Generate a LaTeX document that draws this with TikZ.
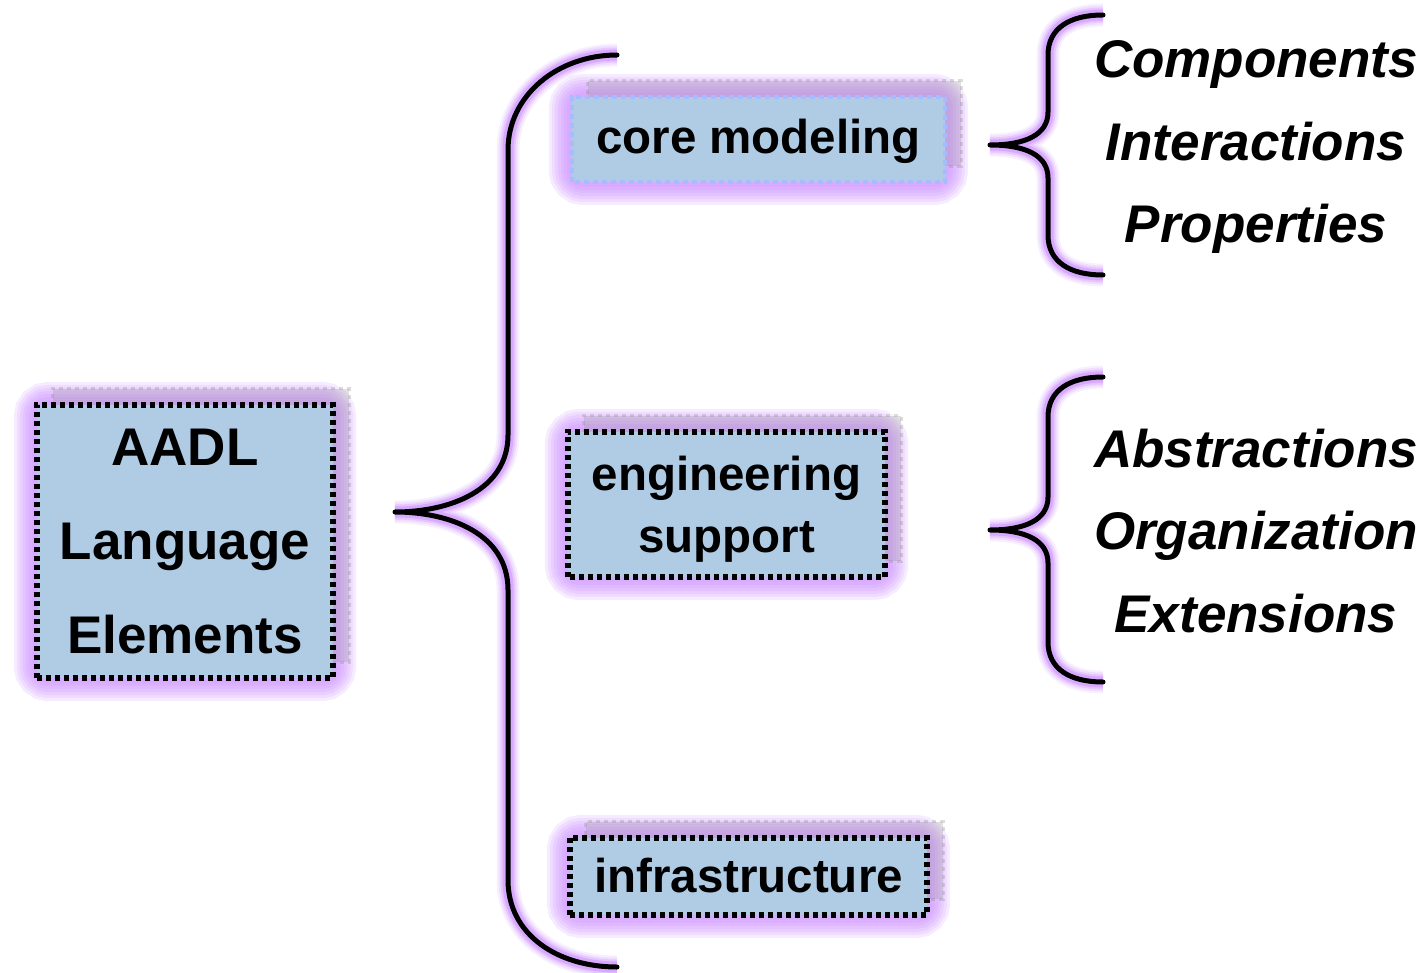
\documentclass[tikz,border=0pt]{standalone}
\usepackage{fontspec}
\setmainfont{Liberation Sans}
\usetikzlibrary{backgrounds}
\definecolor{boxfill}{RGB}{176,203,228}
\definecolor{glowc}{RGB}{200,135,255}
\definecolor{shadowc}{RGB}{140,140,140}
\definecolor{lightdot}{RGB}{165,188,255}
\tikzset{
  box/.style={rectangle, fill=boxfill, draw=none, inner sep=0pt, align=center,
    font=\bfseries\fontsize{47.5}{62}\selectfont},
  dotborder/.style={draw=black, line width=6pt, dash pattern=on 5pt off 4pt},
  lbl/.style={anchor=base, inner sep=0pt, font=\bfseries\itshape\fontsize{53}{60}\selectfont},
  brace/.style={draw=black, line width=5pt, line cap=round, line join=round,
    preaction={draw=glowc, line width=23pt, opacity=0.12},
    preaction={draw=glowc, line width=19pt, opacity=0.18},
    preaction={draw=glowc, line width=15pt, opacity=0.28},
    preaction={draw=glowc, line width=11pt, opacity=0.45}},
}
\newcommand\glowbox[1]{%
  \foreach \w in {46,40,34,28,22,16,10}{%
    \draw[glowc, line width=\w pt, opacity=0.16, rounded corners=12pt]
      (#1.south west) rectangle (#1.north east);}
  \fill[shadowc, opacity=0.25]
    ([shift={(16,-16)}]#1.south west) rectangle ([shift={(16,-16)}]#1.north east);
  \draw[shadowc, opacity=0.3, line width=3pt, dash pattern=on 4pt off 4pt]
    ([shift={(16,-16)}]#1.south west) rectangle ([shift={(16,-16)}]#1.north east);
}
\begin{document}
\begin{tikzpicture}[x=1pt, y=-1pt]
\useasboundingbox (0,0) rectangle (1426,973);

% main boxes
\node[box, minimum width=296pt, minimum height=273pt,
      font=\bfseries\fontsize{53}{94}\selectfont] (aadl) at (185,541.5) {AADL\\Language\\Elements};
\node[box, minimum width=373pt, minimum height=85pt,
      text height=38pt, text depth=9pt] (core) at (758.5,139.5) {core modeling};
\node[box, minimum width=317pt, minimum height=145pt] (eng) at (726.5,504.5) {\rule{0pt}{44pt}engineering\\support};
\node[box, minimum width=357pt, minimum height=77pt,
      text height=35pt, text depth=4pt] (infra) at (748.5,876.5) {infrastructure};

% dotted borders
\draw[dotborder] (aadl.south west) rectangle (aadl.north east);
\draw[dotborder, draw=lightdot, line width=4.5pt] (core.south west) rectangle (core.north east);
\draw[dotborder] (eng.south west) rectangle (eng.north east);
\draw[dotborder] (infra.south west) rectangle (infra.north east);

\begin{pgfonlayer}{background}
  \glowbox{aadl}
  \glowbox{core}
  \glowbox{eng}
  \glowbox{infra}
\end{pgfonlayer}

% labels
\node[lbl] (comp) at (1256,78) {Components};
\node[lbl] (inter) at (1256,161) {Interactions};
\node[lbl] (prop) at (1256,243) {Properties};
\node[lbl] (abst) at (1256,467) {Abstractions};
\node[lbl] (org) at (1256,549) {Organization};
\node[lbl] (ext) at (1256,632) {Extensions};

% big brace
\draw[brace] (617,55) .. controls (558,55) and (508,95) .. (508,150) -- (508,435)
  .. controls (508,490) and (450,512) .. (395,512)
  .. controls (450,512) and (508,534) .. (508,590) -- (508,880)
  .. controls (508,935) and (558,967) .. (617,967);

% right brace 1
\draw[brace] (1103,15) .. controls (1070,15) and (1048,28) .. (1048,55) -- (1048,112)
  .. controls (1048,135) and (1025,145) .. (990,145)
  .. controls (1025,145) and (1048,155) .. (1048,178) -- (1048,235)
  .. controls (1048,262) and (1070,275) .. (1103,275);

% right brace 2
\draw[brace] (1103,377) .. controls (1070,377) and (1048,390) .. (1048,417) -- (1048,497)
  .. controls (1048,520) and (1025,530) .. (990,530)
  .. controls (1025,530) and (1048,540) .. (1048,563) -- (1048,642)
  .. controls (1048,669) and (1070,682) .. (1103,682);
\end{tikzpicture}
\end{document}
